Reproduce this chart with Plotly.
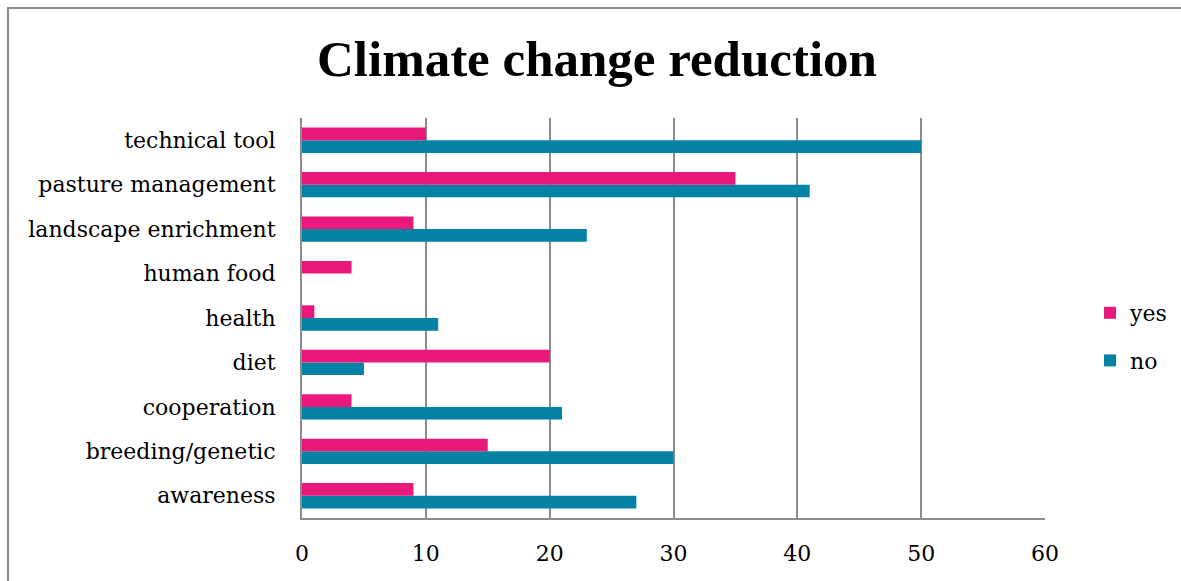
import plotly.graph_objects as go

# Survey answers per topic (listed bottom to top as drawn)
categories = ["awareness", "breeding/genetic", "cooperation", "diet", "health",
              "human food", "landscape enrichment", "pasture management", "technical tool"]
yes_values = [9, 15, 4, 20, 1, 4, 9, 35, 10]
no_values = [27, 30, 21, 5, 11, 0, 23, 41, 50]
x_ticks = [0, 10, 20, 30, 40, 50, 60]

PINK = "#E9197C"
TEAL = "#0382A6"
GRID = "#8c8c8c"
FONT = "DejaVu Serif"

fig = go.Figure()
fig.add_trace(go.Bar(y=categories, x=no_values, name="no", orientation="h",
                     marker=dict(color=TEAL, line=dict(width=0)),
                     legendgroup="no", legendrank=2))
fig.add_trace(go.Bar(y=categories, x=yes_values, name="yes", orientation="h",
                     marker=dict(color=PINK, line=dict(width=0)),
                     legendgroup="yes", legendrank=1))

W, H = 1181, 581
L, R, T, B = 302, W - 1045, 118, H - 518
pw, ph = W - L - R, H - T - B

fig.update_layout(
    width=W, height=H,
    margin=dict(l=L, r=R, t=T, b=B, autoexpand=False),
    paper_bgcolor="white", plot_bgcolor="white",
    barmode="group", bargap=0.43, bargroupgap=0,
    title=dict(text="<b>Climate change reduction</b>", x=597 / W, xanchor="center",
               y=1 - 58 / H, yanchor="middle",
               font=dict(family="Liberation Serif", size=51, color="black")),
    font=dict(family=FONT, size=22, color="black"),
    legend=dict(x=(1090 - L) / pw, xanchor="left", y=(518 - 337) / ph, yanchor="middle",
                traceorder="grouped", tracegroupgap=16,
                font=dict(family=FONT, size=22, color="black"),
                itemwidth=30, bgcolor="rgba(0,0,0,0)"),
    xaxis=dict(range=[0, 60], tickvals=x_ticks, showgrid=True, gridcolor=GRID, gridwidth=2,
               showline=True, linecolor=GRID, linewidth=2, zeroline=False,
               ticks="", ticklabelstandoff=15, fixedrange=True),
    yaxis=dict(showgrid=False, showline=True, linecolor=GRID, linewidth=2,
               ticks="", ticklabelstandoff=20, fixedrange=True),
    shapes=[dict(type="rect", xref="paper", yref="paper",
                 x0=(8 - L) / pw, x1=(W + 20 - L) / pw,
                 y0=-(B + 20) / ph, y1=1 + (T - 8) / ph,
                 line=dict(color="#8a8a8a", width=2), fillcolor="rgba(0,0,0,0)", layer="below")],
)

fig.write_html("out.html")
